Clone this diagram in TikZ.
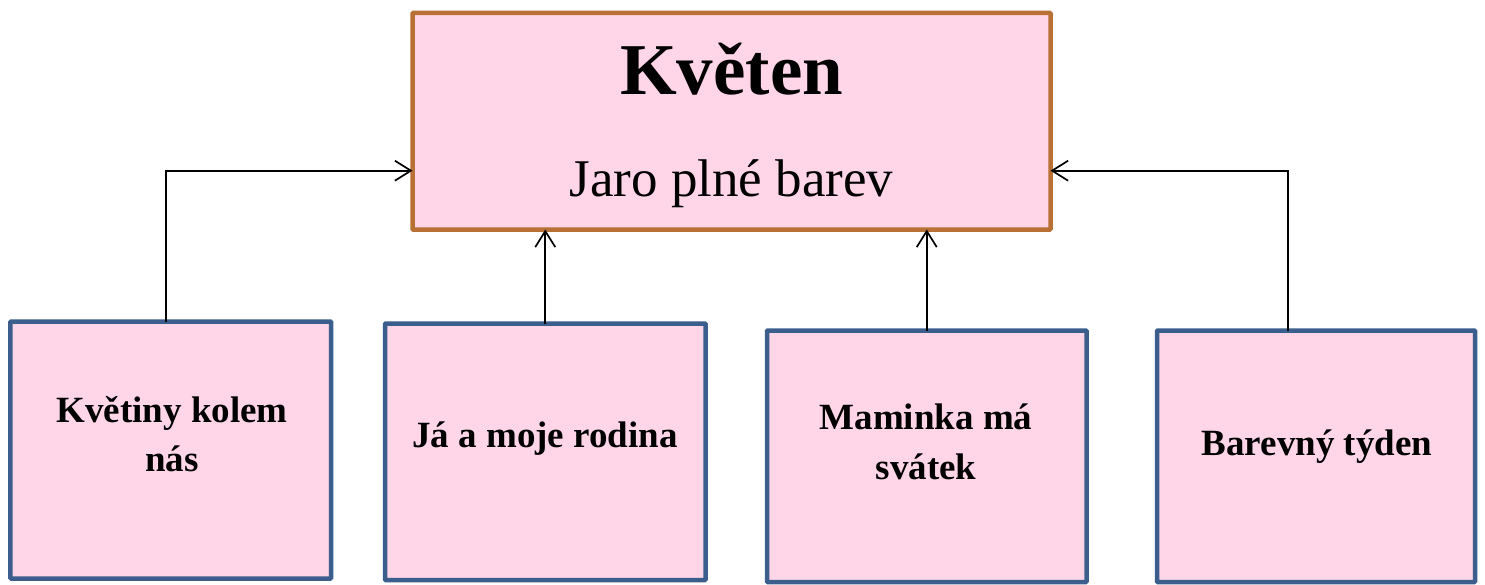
\documentclass[tikz,border=0pt]{standalone}
\usepackage{fontspec}
\setmainfont{Liberation Serif}
\usetikzlibrary{arrows.meta}
\definecolor{boxfill}{RGB}{255,214,232}
\definecolor{topline}{RGB}{184,112,52}
\definecolor{subline}{RGB}{59,94,140}
\begin{document}
\begin{tikzpicture}[x=1bp,y=-1bp,
  box/.style={draw, fill=boxfill, line width=4.5bp, inner sep=0pt, outer sep=0pt, rounded corners=0.8bp},
  topbox/.style={box, draw=topline},
  subbox/.style={box, draw=subline},
  conn/.style={line width=1.7bp, -{Straight Barb[length=16bp,width=20bp,line width=1.7bp]}},
  lbl/.style={font=\fontsize{37bp}{49.5bp}\selectfont\bfseries, align=center, anchor=base, inner sep=0pt}
]
\useasboundingbox (0,0) rectangle (1485,585);
% boxes
\node[topbox, minimum width=638bp, minimum height=216.5bp] (top) at (731.5,121.25) {};
\node[subbox, minimum width=320.5bp, minimum height=257bp] (b1) at (170.75,450) {};
\node[subbox, minimum width=320.5bp, minimum height=256.5bp] (b2) at (545.25,451.75) {};
\node[subbox, minimum width=319.5bp, minimum height=251.5bp] (b3) at (926.75,456.25) {};
\node[subbox, minimum width=318bp, minimum height=251.5bp] (b4) at (1316,456.25) {};
% texts
\node[anchor=base, inner sep=0pt, font=\fontsize{73bp}{80bp}\selectfont\bfseries] (title) at (731.5,95) {Květen};
\node[anchor=base, inner sep=0pt, font=\fontsize{53bp}{60bp}\selectfont] (sub) at (731.5,197) {Jaro plné barev};
\node[lbl] (t1) at (172,471.5) {Květiny kolem\\nás};
\node[lbl] (t2) at (545,447) {Já a moje rodina};
\node[lbl] (t3) at (926,479) {Maminka má\\svátek};
\node[lbl] (t4) at (1317,455) {Barevný týden};
% connectors
\coordinate (yl) at (0,170.7);
\draw[conn] ([xshift=-4.75bp]b1.north) |- (top.west |- yl);
\draw[conn] (b2.north) -- (b2.north |- top.south);
\draw[conn] (b3.north) -- (b3.north |- top.south);
\draw[conn] ([xshift=-28bp]b4.north) |- (top.east |- yl);
\end{tikzpicture}
\end{document}
